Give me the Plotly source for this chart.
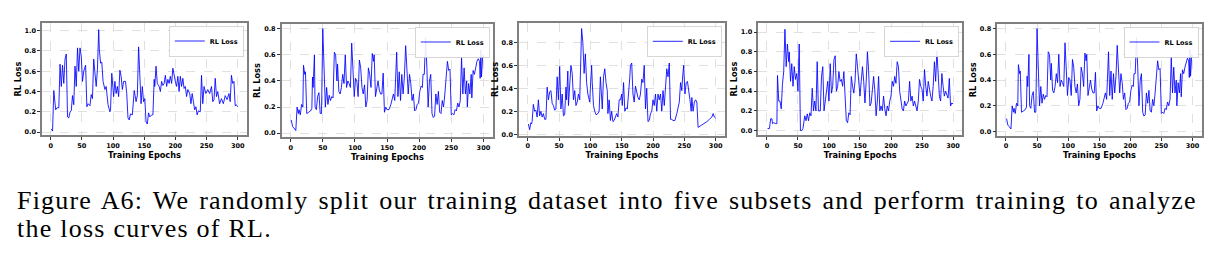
import plotly.graph_objects as go

# ---------------- data ----------------
epochs_1 = [1, 3, 5, 7, 8, 10, 13, 15, 17, 19, 21, 23, 25, 27, 29, 31, 33, 35, 37, 39,
            41, 43, 45, 47, 49, 51, 53, 56, 58, 60, 63, 65, 67, 69, 71, 73, 75, 77, 78, 80,
            82, 84, 87, 89, 92, 95, 96, 98, 101, 103, 105, 107, 109, 111, 113, 115, 117, 120, 122, 124,
            126, 128, 131, 134, 137, 139, 141, 143, 145, 147, 149, 151, 153, 155, 157, 159, 162, 164, 166, 167,
            169, 171, 174, 176, 178, 180, 182, 184, 186, 188, 190, 192, 194, 196, 198, 200, 202, 204, 206, 208,
            210, 212, 214, 216, 218, 220, 223, 225, 227, 229, 231, 233, 235, 237, 240, 242, 244, 246, 249, 252,
            255, 258, 260, 262, 264, 266, 268, 271, 274, 277, 280, 283, 286, 288, 290, 292, 294, 296, 298, 300]
loss_1 = [0.03, 0.01, 0.41, 0.25, 0.22, 0.24, 0.24, 0.67, 0.45, 0.66, 0.48, 0.72, 0.77, 0.15, 0.14, 0.20, 0.21, 0.36, 0.27, 0.65,
          0.45, 0.83, 0.60, 0.83, 0.75, 0.50, 0.60, 0.66, 0.25, 0.28, 0.26, 0.37, 0.33, 0.72, 0.55, 0.45, 0.62, 1.01, 0.82, 0.68,
          0.69, 0.50, 0.42, 0.45, 0.27, 0.20, 0.22, 0.58, 0.35, 0.50, 0.38, 0.45, 0.35, 0.61, 0.55, 0.42, 0.50, 0.50, 0.38, 0.14,
          0.12, 0.18, 0.17, 0.41, 0.30, 0.36, 0.84, 0.60, 0.28, 0.45, 0.30, 0.33, 0.10, 0.08, 0.19, 0.15, 0.17, 0.17, 0.52, 0.45,
          0.65, 0.48, 0.45, 0.40, 0.50, 0.46, 0.48, 0.56, 0.45, 0.52, 0.48, 0.55, 0.48, 0.63, 0.55, 0.50, 0.45, 0.55, 0.40, 0.55,
          0.45, 0.53, 0.43, 0.45, 0.35, 0.42, 0.38, 0.28, 0.38, 0.30, 0.22, 0.25, 0.17, 0.21, 0.20, 0.56, 0.28, 0.45, 0.38, 0.42,
          0.38, 0.45, 0.30, 0.32, 0.53, 0.35, 0.40, 0.28, 0.33, 0.28, 0.36, 0.32, 0.38, 0.30, 0.56, 0.48, 0.50, 0.26, 0.27, 0.25]

epochs_2 = [1, 3, 5, 7, 8, 10, 12, 13, 15, 17, 19, 20, 22, 23, 25, 28, 31, 33, 34, 35,
            37, 38, 40, 42, 44, 46, 48, 50, 52, 54, 56, 58, 60, 62, 64, 66, 68, 70, 72, 73,
            75, 77, 79, 81, 83, 85, 87, 89, 91, 93, 95, 97, 99, 101, 103, 105, 107, 109, 111, 113,
            115, 117, 119, 121, 123, 125, 127, 129, 130, 132, 134, 136, 138, 140, 142, 144, 146, 148, 150, 153,
            156, 158, 160, 162, 163, 165, 167, 169, 171, 173, 175, 177, 179, 181, 183, 185, 187, 189, 191, 193,
            195, 197, 199, 201, 203, 205, 206, 208, 210, 212, 214, 216, 218, 220, 222, 224, 226, 228, 230, 232,
            234, 236, 238, 240, 242, 244, 246, 248, 250, 252, 254, 256, 258, 260, 262, 264, 266, 268, 270, 272,
            274, 275, 277, 279, 281, 282, 284, 286, 288, 290, 292, 294, 295, 296, 297, 299, 300]
loss_2 = [0.10, 0.05, 0.04, 0.02, 0.02, 0.20, 0.15, 0.18, 0.14, 0.22, 0.20, 0.52, 0.45, 0.47, 0.15, 0.16, 0.17, 0.19, 0.43, 0.35,
          0.60, 0.20, 0.18, 0.28, 0.31, 0.15, 0.15, 0.80, 0.55, 0.20, 0.35, 0.22, 0.29, 0.25, 0.28, 0.27, 0.62, 0.60, 0.40, 0.53,
          0.32, 0.30, 0.35, 0.45, 0.38, 0.60, 0.35, 0.40, 0.38, 0.35, 0.69, 0.45, 0.28, 0.42, 0.40, 0.28, 0.56, 0.50, 0.35, 0.30,
          0.37, 0.20, 0.25, 0.50, 0.45, 0.35, 0.61, 0.55, 0.60, 0.28, 0.35, 0.40, 0.33, 0.30, 0.30, 0.46, 0.16, 0.20, 0.18, 0.18,
          0.22, 0.26, 0.30, 0.25, 0.35, 0.62, 0.28, 0.47, 0.25, 0.45, 0.30, 0.43, 0.67, 0.50, 0.30, 0.45, 0.38, 0.25, 0.30, 0.17,
          0.18, 0.22, 0.23, 0.32, 0.36, 0.35, 0.45, 0.45, 0.73, 0.50, 0.20, 0.40, 0.45, 0.15, 0.12, 0.13, 0.30, 0.22, 0.32, 0.16,
          0.15, 0.25, 0.20, 0.30, 0.42, 0.55, 0.48, 0.49, 0.14, 0.15, 0.14, 0.18, 0.17, 0.23, 0.20, 0.25, 0.58, 0.30, 0.50, 0.30,
          0.40, 0.20, 0.38, 0.30, 0.45, 0.27, 0.48, 0.45, 0.50, 0.55, 0.57, 0.55, 0.42, 0.64, 0.43, 0.60, 0.58]

epochs_3 = [1, 3, 5, 6, 7, 9, 11, 13, 15, 17, 19, 21, 23, 25, 27, 29, 31, 33, 35, 37,
            39, 41, 43, 45, 47, 49, 51, 53, 55, 57, 59, 61, 62, 64, 65, 67, 69, 71, 73, 75,
            77, 79, 81, 83, 86, 88, 90, 92, 94, 96, 98, 99, 100, 102, 103, 105, 107, 109, 112, 114,
            116, 118, 119, 121, 123, 125, 127, 128, 130, 132, 134, 136, 138, 140, 142, 144, 146, 148, 150, 151,
            153, 155, 157, 159, 161, 163, 164, 166, 168, 170, 172, 174, 176, 178, 180, 182, 184, 186, 188, 190,
            192, 194, 196, 198, 200, 202, 204, 206, 208, 210, 212, 214, 216, 218, 220, 222, 224, 226, 228, 230,
            232, 235, 238, 240, 242, 244, 246, 247, 249, 251, 253, 255, 257, 259, 261, 262, 264, 266, 268, 270,
            272, 275, 278, 282, 286, 290, 294, 296, 298, 300]
loss_3 = [0.09, 0.04, 0.10, 0.09, 0.11, 0.26, 0.20, 0.21, 0.15, 0.30, 0.16, 0.20, 0.15, 0.18, 0.13, 0.13, 0.41, 0.30, 0.37, 0.38,
          0.27, 0.25, 0.21, 0.22, 0.50, 0.30, 0.59, 0.22, 0.35, 0.16, 0.17, 0.41, 0.30, 0.55, 0.25, 0.50, 0.60, 0.53, 0.30, 0.38,
          0.25, 0.28, 0.35, 0.30, 0.92, 0.80, 0.53, 0.70, 0.45, 0.35, 0.30, 0.28, 0.40, 0.60, 0.45, 0.25, 0.20, 0.17, 0.18, 0.20,
          0.50, 0.35, 0.22, 0.50, 0.57, 0.45, 0.38, 0.18, 0.30, 0.12, 0.20, 0.11, 0.12, 0.15, 0.18, 0.15, 0.30, 0.30, 0.35, 0.25,
          0.45, 0.20, 0.23, 0.22, 0.33, 0.50, 0.60, 0.62, 0.35, 0.28, 0.42, 0.35, 0.32, 0.30, 0.35, 0.48, 0.45, 0.60, 0.22, 0.40,
          0.11, 0.12, 0.18, 0.20, 0.30, 0.25, 0.35, 0.20, 0.35, 0.30, 0.35, 0.20, 0.38, 0.25, 0.45, 0.57, 0.50, 0.62, 0.13, 0.13,
          0.12, 0.12, 0.18, 0.22, 0.28, 0.45, 0.38, 0.48, 0.60, 0.35, 0.45, 0.46, 0.35, 0.30, 0.20, 0.32, 0.20, 0.28, 0.30, 0.28,
          0.06, 0.07, 0.08, 0.10, 0.11, 0.13, 0.15, 0.18, 0.15, 0.14]

epochs_4 = [1, 4, 6, 8, 9, 11, 14, 16, 17, 19, 21, 23, 25, 27, 29, 31, 33, 35, 36, 38,
            40, 42, 44, 46, 48, 50, 51, 52, 54, 56, 58, 61, 63, 65, 67, 69, 71, 73, 75, 77,
            79, 81, 83, 86, 88, 90, 92, 94, 96, 98, 100, 102, 104, 106, 108, 110, 112, 114, 116, 118,
            120, 122, 124, 126, 128, 130, 132, 134, 136, 138, 140, 142, 144, 146, 148, 150, 152, 154, 156, 158,
            160, 162, 164, 166, 168, 170, 172, 174, 176, 178, 180, 182, 184, 186, 188, 190, 192, 194, 196, 198,
            200, 202, 204, 206, 208, 210, 212, 214, 216, 218, 220, 222, 224, 226, 228, 230, 232, 234, 236, 238,
            240, 242, 244, 246, 248, 250, 252, 254, 256, 258, 260, 262, 264, 266, 268, 270, 272, 274, 276, 278,
            280, 282, 284, 286, 288, 290, 292, 294, 296, 298, 300]
loss_4 = [0.02, 0.02, 0.12, 0.12, 0.07, 0.08, 0.07, 0.07, 0.56, 0.30, 0.30, 0.22, 0.47, 0.60, 1.03, 0.65, 0.88, 0.70, 0.80, 0.50,
          0.68, 0.45, 0.65, 0.52, 0.58, 0.40, 0.65, 0.88, 0.00, 0.00, 0.02, 0.15, 0.10, 0.17, 0.10, 0.18, 0.15, 0.43, 0.20, 0.30,
          0.20, 0.70, 0.20, 0.20, 0.55, 0.65, 0.20, 0.30, 0.35, 0.50, 0.30, 0.68, 0.38, 0.45, 0.72, 0.76, 0.40, 0.45, 0.60, 0.50,
          0.52, 0.45, 0.60, 0.30, 0.10, 0.08, 0.18, 0.16, 0.55, 0.45, 0.38, 0.50, 0.78, 0.65, 0.45, 0.35, 0.50, 0.65, 0.50, 0.28,
          0.50, 0.80, 0.60, 0.25, 0.28, 0.45, 0.55, 0.40, 0.15, 0.30, 0.55, 0.20, 0.25, 0.20, 0.35, 0.22, 0.15, 0.25, 0.20, 0.30,
          0.35, 0.50, 0.45, 0.55, 0.48, 0.70, 0.65, 0.40, 0.30, 0.22, 0.20, 0.30, 0.25, 0.28, 0.30, 0.50, 0.30, 0.35, 0.25, 0.30,
          0.25, 0.20, 0.30, 0.52, 0.45, 0.42, 0.30, 0.62, 0.45, 0.35, 0.50, 0.40, 0.35, 0.30, 0.45, 0.70, 0.50, 0.81, 0.60, 0.35,
          0.30, 0.58, 0.45, 0.35, 0.40, 0.35, 0.33, 0.53, 0.25, 0.28, 0.27]

# subset 5 shows the same curve as subset 2 in the reference
epochs_5 = list(epochs_2)
loss_5 = list(loss_2)

y_ranges = [(-0.033, 1.078), (-0.033, 0.838), (-0.013, 0.968), (-0.047, 1.093), (-0.033, 0.838)]
y_ticks = [[0.0, 0.2, 0.4, 0.6, 0.8, 1.0], [0.0, 0.2, 0.4, 0.6, 0.8], [0.0, 0.2, 0.4, 0.6, 0.8],
           [0.0, 0.2, 0.4, 0.6, 0.8, 1.0], [0.0, 0.2, 0.4, 0.6, 0.8]]
x_ticks = [0, 50, 100, 150, 200, 250, 300]
series_name = "RL Loss"
caption_1 = "Figure A6: We randomly split our training dataset into five subsets and perform training to analyze"
caption_2 = "the loss curves of RL."

# ---------------- layout geometry (pixels) ----------------
W, H = 1224, 269
boxes = [(42, 247, 23, 137), (281.7, 493, 24, 139), (519, 725, 23.3, 137.3),
         (758.3, 962.3, 23.3, 136.7), (997.3, 1201.7, 24, 137.3)]

series = [(epochs_1, loss_1), (epochs_2, loss_2), (epochs_3, loss_3), (epochs_4, loss_4), (epochs_5, loss_5)]

fig = go.Figure()
tick_font = dict(family="DejaVu Sans", size=6.5, color="black", weight="bold")
title_font = dict(family="DejaVu Sans", size=8.2, color="black", weight="bold")
frame = "#7f7f7f"

layout = dict(width=W, height=H, margin=dict(l=0, r=0, t=0, b=0),
              paper_bgcolor="white", plot_bgcolor="white", showlegend=True)

for i, ((xs, ys), (l, r, t, b)) in enumerate(zip(series, boxes)):
    n = "" if i == 0 else str(i + 1)
    leg = "legend" if i == 0 else f"legend{i + 1}"
    fig.add_trace(go.Scatter(x=xs, y=ys, mode="lines", name=series_name,
                             line=dict(color="rgba(0,0,255,0.85)", width=1),
                             xaxis=f"x{n}", yaxis=f"y{n}", legend=leg, showlegend=True))
    common = dict(showline=True, mirror=True, linecolor=frame, linewidth=1.5,
                  showgrid=True, gridcolor="#e0e0e0", gridwidth=0.7, griddash="dash",
                  zeroline=False, ticks="outside", ticklen=3, tickwidth=0.8, tickcolor="#333",
                  tickfont=tick_font)
    layout[f"xaxis{n}"] = dict(domain=[l / W, r / W], range=[-13.95, 314.95],
                               tickvals=x_ticks, anchor=f"y{n}",
                               title=dict(text="Training Epochs", font=title_font, standoff=0),
                               **common)
    layout[f"yaxis{n}"] = dict(domain=[1 - b / H, 1 - t / H], range=list(y_ranges[i]),
                               tickvals=y_ticks[i], tickformat=".1f", anchor=f"x{n}",
                               title=dict(text="RL Loss", font=title_font, standoff=2),
                               **common)
    layout[leg] = dict(x=(r - 3) / W, y=1 - (t + 3) / H, xanchor="right", yanchor="top",
                       bgcolor="rgba(255,255,255,0.9)", bordercolor="#cccccc", borderwidth=0.8,
                       font=dict(family="DejaVu Sans", size=6.5, color="black", weight="bold"),
                       itemwidth=30, tracegroupgap=0)

fig.update_layout(**layout)

cap_font = dict(family="Liberation Serif", size=26, color="black")
line1 = "<span style='letter-spacing:1.2px;word-spacing:2.3px'>{}</span>"
line2 = "<span style='letter-spacing:1.25px'>{}</span>"
fig.add_annotation(text=line1.format(caption_1), xref="paper", yref="paper", x=15 / W, y=1 - 203 / H,
                   xanchor="left", yanchor="middle", showarrow=False, font=cap_font)
fig.add_annotation(text=line2.format(caption_2), xref="paper", yref="paper", x=15 / W, y=1 - 231.5 / H,
                   xanchor="left", yanchor="middle", showarrow=False, font=cap_font)

fig.write_html("out.html")
